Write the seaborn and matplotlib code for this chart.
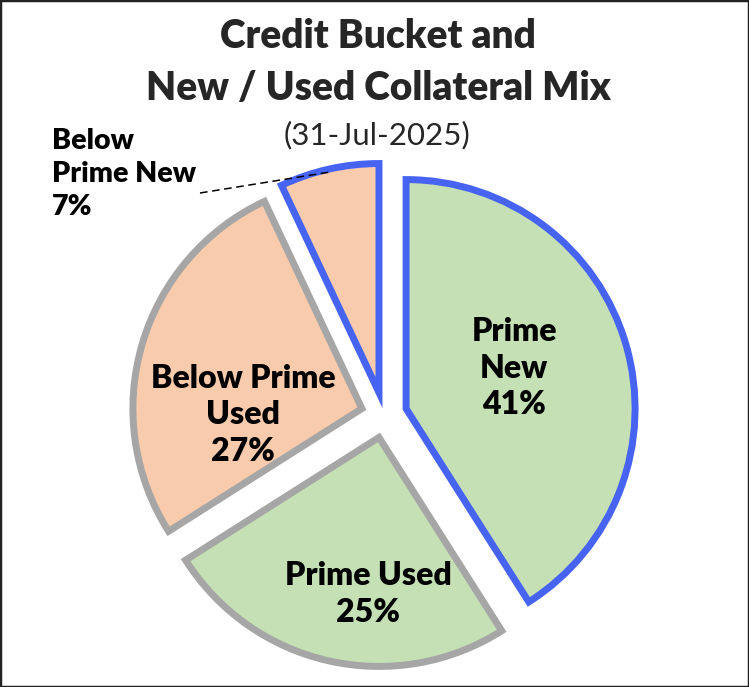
#! /usr/bin/env python3
'''
Credit bucket and new / used collateral mix pie
'''

# imports
from matplotlib.patches import Rectangle
import matplotlib.pyplot as plt
import seaborn as sns

# data
LABELS = ['Prime New', 'Prime Used', 'Below Prime Used', 'Below Prime New']
SHARES = [41, 25, 27, 7]
FILLS = ['#c5e0b4', '#c5e0b4', '#f8cbad', '#f8cbad']
EDGES = ['#4763f2', '#a6a6a6', '#a6a6a6', '#4763f2']

# configure
sns.set_theme(style="white")
plt.rcParams['font.family'] = ['Lato', 'DejaVu Sans']

W, H = 749, 687
R = 229
fig = plt.figure(figsize=(W / 100, H / 100), dpi=100)
ax = fig.add_axes([0, 0, 1, 1])

# explode is in data units, not a fraction of the radius
wedges, _ = ax.pie(SHARES, colors=FILLS, startangle=90, counterclock=False,
                   center=(384, H - 415), radius=R, explode=[23] * 4,
                   wedgeprops=dict(linewidth=5, joinstyle='miter'))
for w, ec in zip(wedges, EDGES):
    w.set_edgecolor(ec)
# pie resets the limits, so set them afterwards
ax.set_xlim(0, W); ax.set_ylim(0, H); ax.set_aspect('equal'); ax.axis('off')

# labels
lab = dict(ha='center', va='center', fontsize=23, fontweight='heavy', color='black', linespacing=1.3)
ax.text(514, H - 368, 'Prime\nNew\n%d%%' % SHARES[0], **lab)
ax.text(368, H - 594, 'Prime Used\n%d%%' % SHARES[1], **lab)
ax.text(243, H - 415, 'Below Prime\nUsed\n%d%%' % SHARES[2], **lab)
ax.text(52, H - 174, 'Below\nPrime New\n%d%%' % SHARES[3], ha='left', va='center',
        fontsize=20.5, fontweight='heavy', color='black', linespacing=1.35)
ax.plot([200, 330], [H - 193, H - 172], color='black', linestyle=(0, (5, 3)), linewidth=1.1)

# title
ax.text(378, H - 37, 'Credit Bucket and', ha='center', va='center', fontsize=28, fontweight='heavy')
ax.text(378, H - 88, 'New / Used Collateral Mix', ha='center', va='center', fontsize=28, fontweight='heavy')
ax.text(377, H - 135, '(31-Jul-2025)', ha='center', va='center', fontsize=22.5)

fig.patches.append(Rectangle((0, 0), 1, 1, transform=fig.transFigure, fill=False,
                             edgecolor='#222222', linewidth=2.5))
fig.savefig('out.png', dpi=100)
